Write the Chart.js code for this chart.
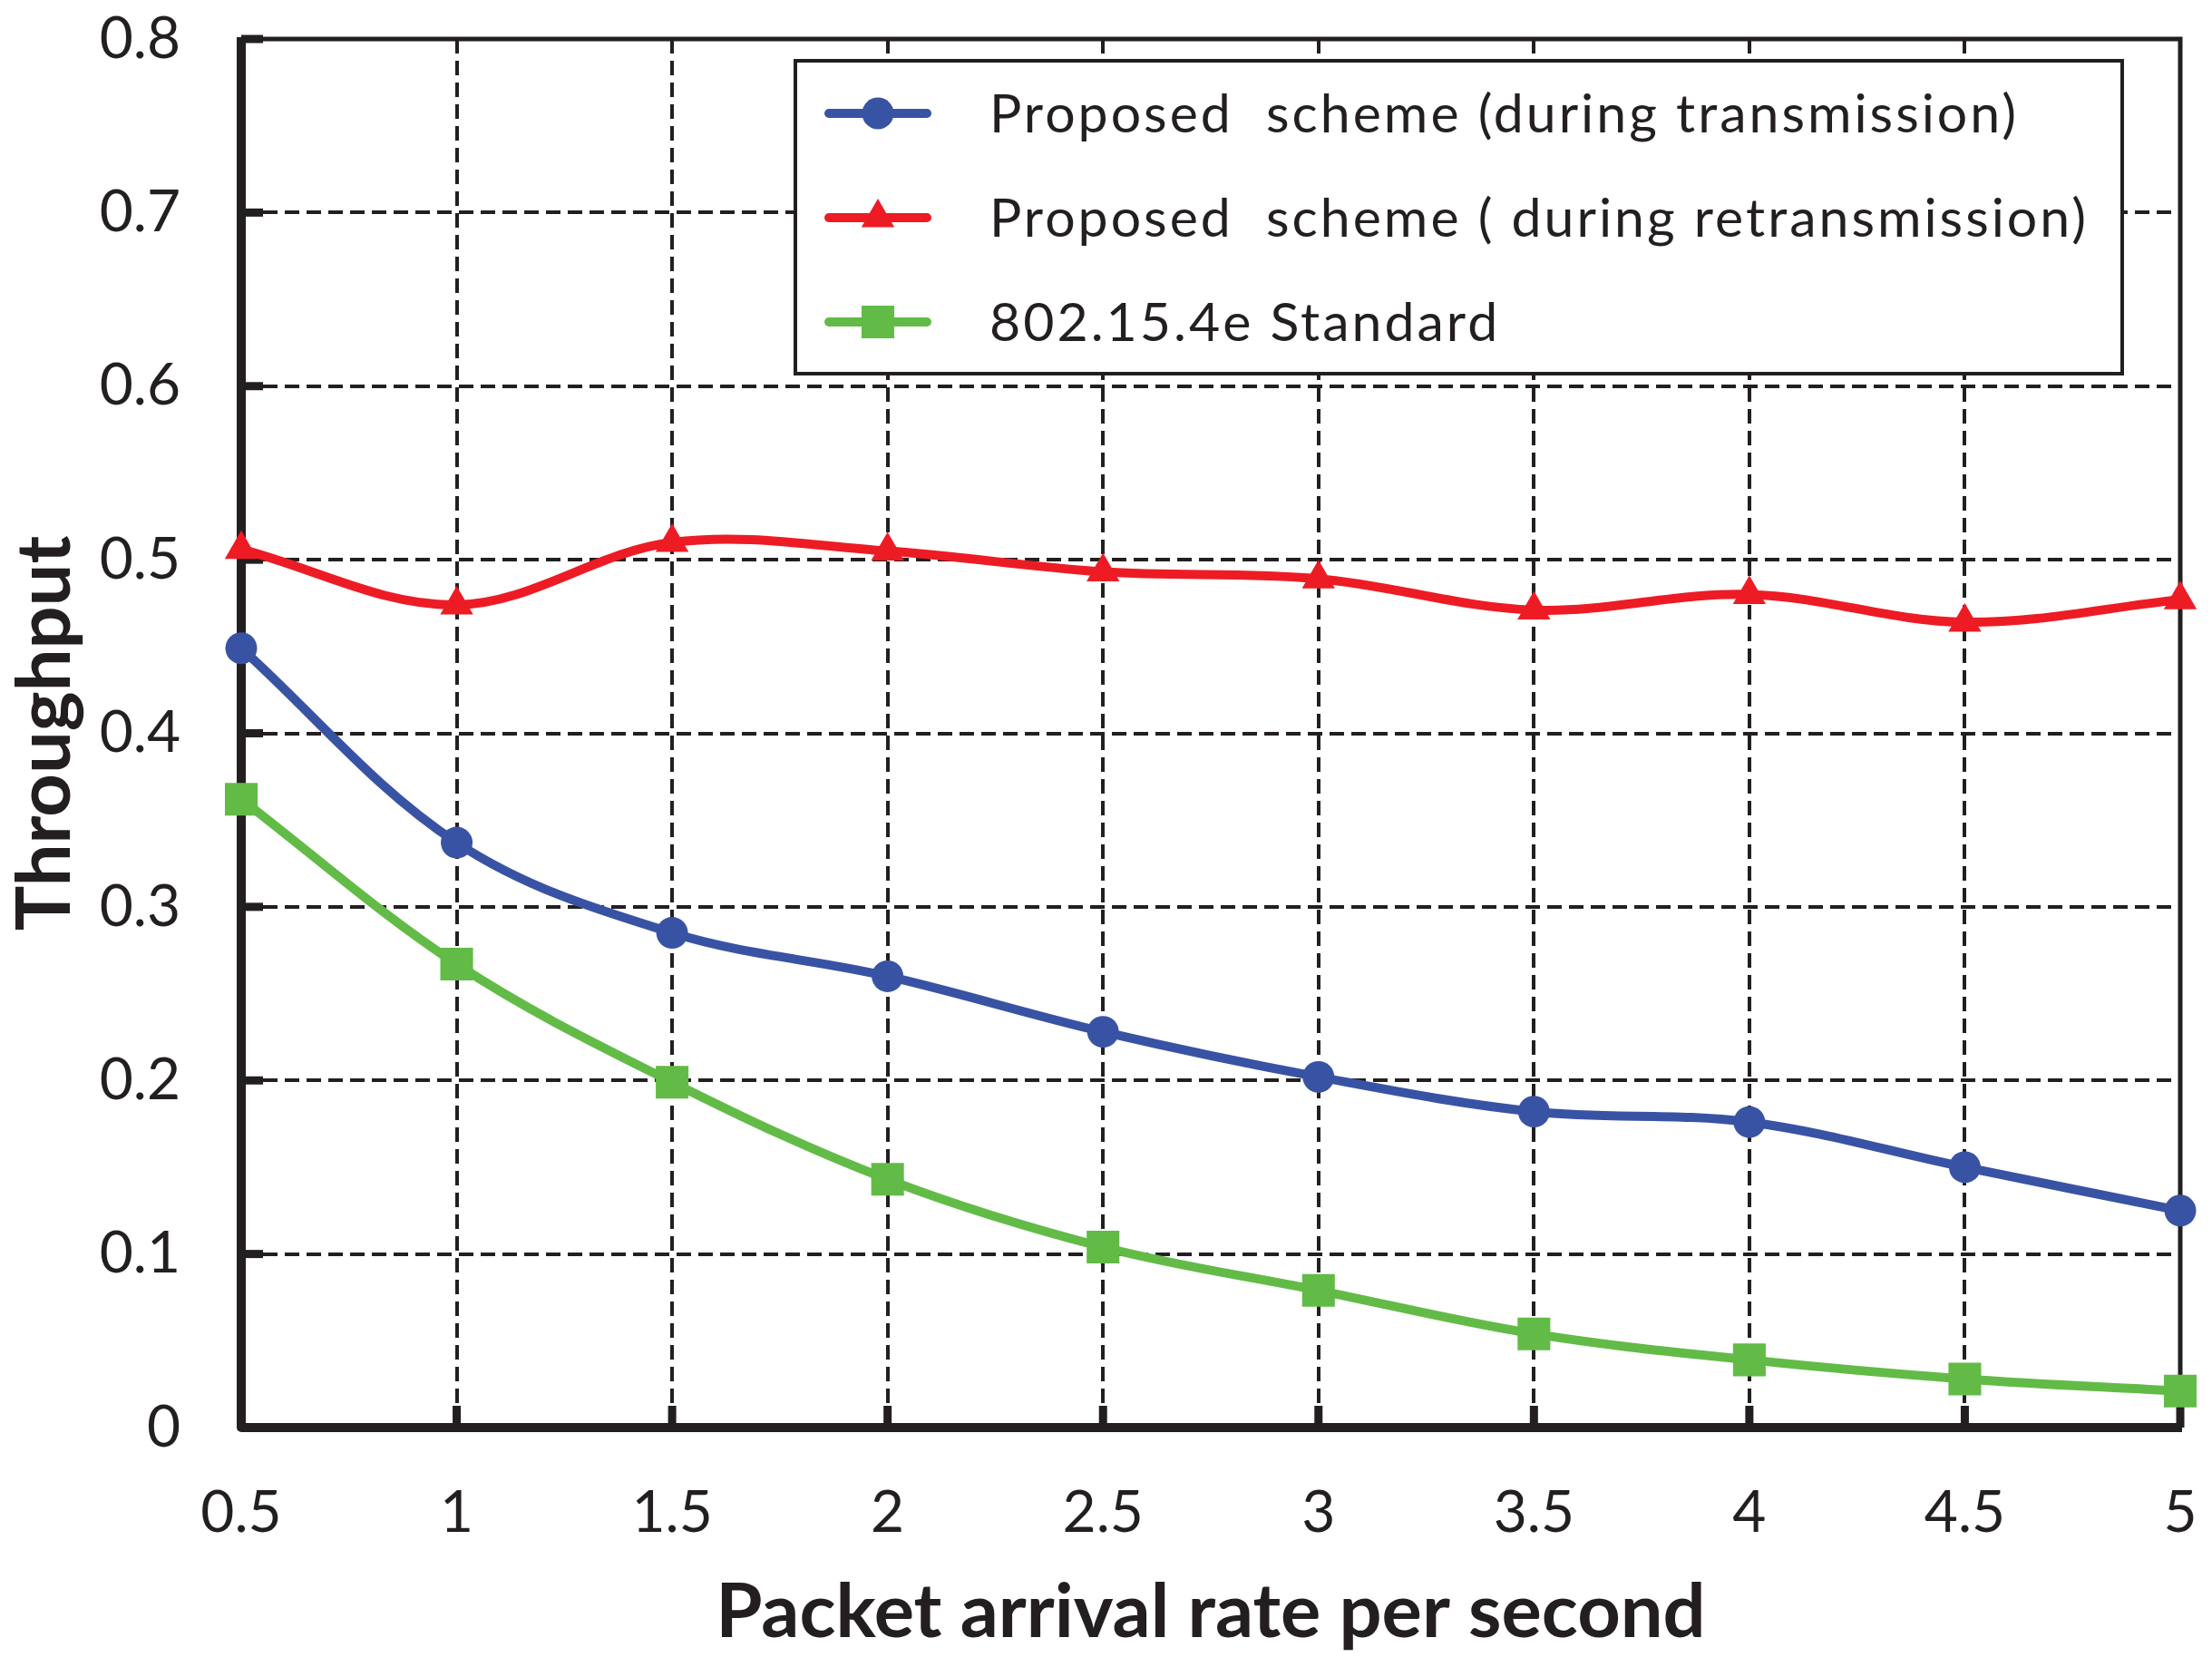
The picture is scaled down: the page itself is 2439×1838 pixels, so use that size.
<!DOCTYPE html>
<html>
<head>
<meta charset="utf-8">
<title>Throughput vs packet arrival rate</title>
<script src="https://cdn.jsdelivr.net/npm/chart.js@4.4.1/dist/chart.umd.min.js"></script>
<style>
  html, body { margin: 0; padding: 0; background: #fff; }
  #chart { display: block; }
</style>
</head>
<body>
<canvas id="chart" width="2439" height="1838"></canvas>
<script>
/* global Chart */

const arrivalRates = [0.5, 1, 1.5, 2, 2.5, 3, 3.5, 4, 4.5, 5]
const duringTransmission = [0.449, 0.337, 0.285, 0.260, 0.228, 0.202, 0.182, 0.176, 0.150, 0.125]
const duringRetransmission = [0.506, 0.474, 0.510, 0.505, 0.493, 0.489, 0.471, 0.480, 0.464, 0.477]
const standard802154e = [0.362, 0.267, 0.199, 0.143, 0.104, 0.079, 0.054, 0.039, 0.028, 0.021]

const seriesNames = [
  'Proposed  scheme (during transmission)',
  'Proposed  scheme ( during retransmission)',
  '802.15.4e Standard'
]
const xTickLabels = ['0.5', '1', '1.5', '2', '2.5', '3', '3.5', '4', '4.5', '5']
const yTickLabels = ['0', '0.1', '0.2', '0.3', '0.4', '0.5', '0.6', '0.7', '0.8']
const xTitle = 'Packet arrival rate per second'
const yTitle = 'Throughput'

const ink = '#231f20'
const fontFamily = 'Lato, "Open Sans", sans-serif'

function toPoints (values) {
  return values.map((v, i) => ({ x: arrivalRates[i], y: v }))
}

function lineSet (label, values, color, pointStyle, radius) {
  return {
    label,
    data: toPoints(values),
    borderColor: color,
    backgroundColor: color,
    borderWidth: 10,
    pointStyle,
    pointRadius: radius,
    pointHoverRadius: radius,
    pointBorderWidth: 0,
    tension: 0.35,
    clip: false
  }
}

// axis frame: heavy left/bottom, light top/right, inward tick marks
const framePlugin = {
  id: 'frame',
  beforeDatasetsDraw (chart) {
    const { ctx, chartArea: a, scales: { x, y } } = chart
    ctx.save()
    ctx.strokeStyle = ink
    ctx.lineCap = 'butt'

    ctx.lineWidth = 5
    ctx.beginPath()
    ctx.moveTo(a.left, a.top)
    ctx.lineTo(a.right, a.top)
    ctx.lineTo(a.right, a.bottom)
    ctx.stroke()

    ctx.lineWidth = 3
    x.ticks.forEach(t => {
      const px = x.getPixelForValue(t.value)
      ctx.beginPath()
      ctx.moveTo(px, a.top)
      ctx.lineTo(px, a.top + 14)
      ctx.stroke()
    })

    ctx.lineWidth = 9
    y.ticks.forEach(t => {
      const py = y.getPixelForValue(t.value)
      ctx.beginPath()
      ctx.moveTo(a.left, py)
      ctx.lineTo(a.left + 24, py)
      ctx.stroke()
    })
    x.ticks.forEach(t => {
      const px = x.getPixelForValue(t.value)
      ctx.beginPath()
      ctx.moveTo(px, a.bottom)
      ctx.lineTo(px, a.bottom - 24)
      ctx.stroke()
    })

    ctx.lineWidth = 10
    ctx.lineJoin = 'round'
    ctx.beginPath()
    ctx.moveTo(a.left, a.top - 2)
    ctx.lineTo(a.left, a.bottom)
    ctx.lineTo(a.right + 2, a.bottom)
    ctx.stroke()
    ctx.restore()
  }
}

const legendPlugin = {
  id: 'boxLegend',
  afterDatasetsDraw (chart) {
    const { ctx } = chart
    const box = { left: 877, top: 67, right: 2340, bottom: 412 }
    const rowY = [125, 240, 355]
    ctx.save()
    ctx.fillStyle = '#fff'
    ctx.fillRect(box.left, box.top, box.right - box.left, box.bottom - box.top)
    ctx.strokeStyle = ink
    ctx.lineWidth = 4
    ctx.strokeRect(box.left, box.top, box.right - box.left, box.bottom - box.top)

    chart.data.datasets.forEach((ds, i) => {
      const yy = rowY[i]
      ctx.strokeStyle = ds.borderColor
      ctx.lineWidth = ds.borderWidth
      ctx.lineCap = 'round'
      ctx.beginPath()
      ctx.moveTo(914, yy)
      ctx.lineTo(1022, yy)
      ctx.stroke()
      ctx.fillStyle = ds.backgroundColor
      Chart.helpers.drawPoint(ctx, {
        pointStyle: ds.pointStyle,
        radius: ds.pointRadius,
        rotation: 0,
        borderWidth: 0
      }, 968, yy)
      ctx.fillStyle = ink
      ctx.font = `59px ${fontFamily}`
      ctx.letterSpacing = '3px'
      ctx.textAlign = 'left'
      ctx.textBaseline = 'middle'
      ctx.fillText(ds.label, 1091, yy + 2)
    })
    ctx.restore()
  }
}

const gridDash = [16, 8]

new Chart(document.getElementById('chart'), {
  type: 'line',
  data: {
    datasets: [
      lineSet(seriesNames[0], duringTransmission, '#3953a4', 'circle', 17.5),
      lineSet(seriesNames[1], duringRetransmission, '#ed1c24', 'triangle', 21),
      lineSet(seriesNames[2], standard802154e, '#62bb46', 'rect', 25.5)
    ]
  },
  options: {
    responsive: false,
    animation: false,
    devicePixelRatio: 1,
    layout: { padding: { top: 43, right: 35, left: 0, bottom: 0 } },
    plugins: {
      legend: { display: false },
      tooltip: { enabled: false }
    },
    scales: {
      x: {
        type: 'linear',
        min: 0.5,
        max: 5,
        afterFit: (scale) => { scale.height = 264 },
        ticks: {
          stepSize: 0.5,
          autoSkip: false,
          maxRotation: 0,
          padding: 0,
          color: ink,
          font: { family: fontFamily, size: 64 },
          callback: (value, index) => xTickLabels[index]
        },
        grid: { color: ink, lineWidth: 4, drawTicks: true, tickLength: 56, tickWidth: 0 },
        border: { display: false, dash: gridDash },
        title: {
          display: true,
          text: xTitle,
          color: ink,
          font: { family: fontFamily, size: 83, weight: 'bold' },
          padding: { top: 0, bottom: 10 }
        }
      },
      y: {
        type: 'linear',
        min: 0,
        max: 0.8,
        afterFit: (scale) => { scale.width = 266 },
        ticks: {
          stepSize: 0.1,
          autoSkip: false,
          padding: 0,
          color: ink,
          font: { family: fontFamily, size: 64 },
          callback: (value, index) => yTickLabels[index]
        },
        grid: { color: ink, lineWidth: 4, drawTicks: true, tickLength: 67, tickWidth: 0 },
        border: { display: false, dash: gridDash },
        title: {
          display: true,
          text: yTitle,
          color: ink,
          font: { family: fontFamily, size: 83, weight: 'bold' },
          padding: { top: 0, bottom: 0 }
        }
      }
    }
  },
  plugins: [framePlugin, legendPlugin]
})
</script>
</body>
</html>
